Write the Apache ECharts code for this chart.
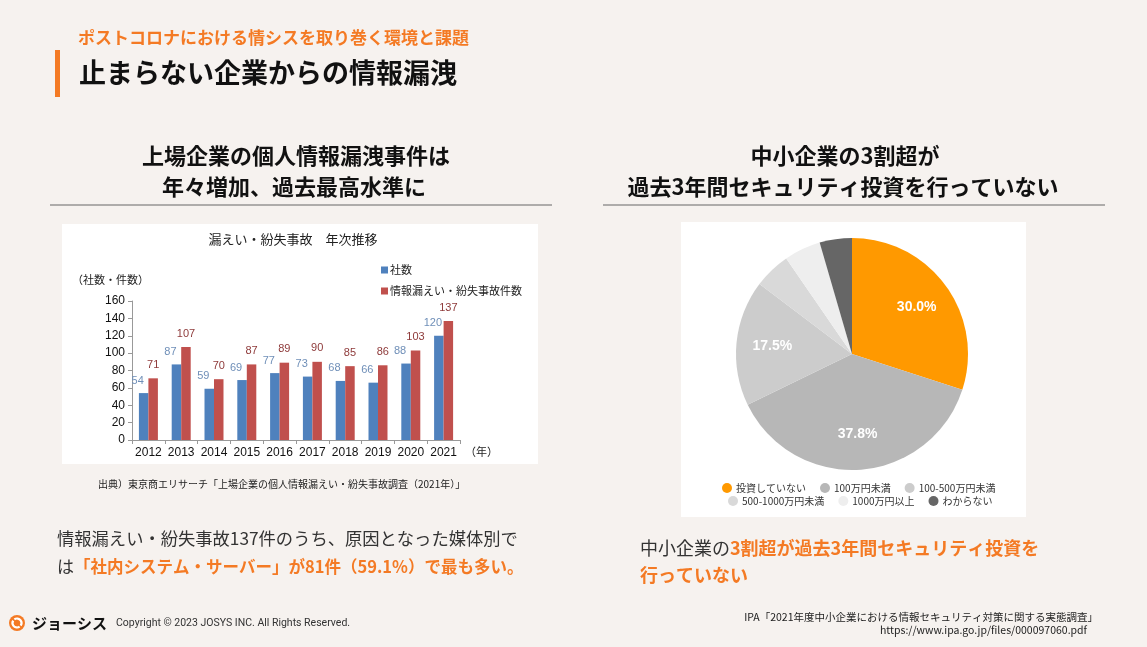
<!DOCTYPE html>
<html><head><meta charset="utf-8">
<script src="https://cdn.jsdelivr.net/npm/echarts@6/dist/echarts.min.js"></script>
<style>html,body{margin:0;padding:0;background:#f6f2ef;}#c{width:1147px;height:647px;}</style>
</head><body><div id="c"></div>
<script>
const years = ['2012','2013','2014','2015','2016','2017','2018','2019','2020','2021'];
const companies = [54,87,59,69,77,73,68,66,88,120];
const incidents = [71,107,70,87,89,90,85,86,103,137];
const yTicks = {min:0, max:160, interval:20};
const pieNames = ['投資していない','100万円未満','100-500万円未満','500-1000万円未満','1000万円以上','わからない'];
const pieValues = [30.0,37.8,17.5,5.1,5.1,4.5];
const pieColors = ['#ff9900','#b7b7b7','#cccccc','#d9d9d9','#eeeeee','#666666'];

const JP = '"Noto Sans CJK JP", "Noto Sans", sans-serif';
const ORANGE = '#f47a24';
const chart = echarts.init(document.getElementById('c'));
const pieData = pieNames.map((n,i)=>({name:n, value:pieValues[i], itemStyle:{color:pieColors[i]}}));

function txt(x,y,text,size,opts){
  return Object.assign({type:'text', x:x, y:y, silent:true,
    style:Object.assign({text:text, font:(opts&&opts.weight||'normal')+' '+size+'px '+JP, fill:(opts&&opts.fill)||'#222',
      textAlign:(opts&&opts.align)||'left', textVerticalAlign:'middle'}, (opts&&opts.style)||{})}, {});
}

chart.setOption({
  backgroundColor:'#f6f2ef',
  animation:false,
  graphic:[
    {type:'rect', shape:{x:55,y:50,width:5,height:47}, style:{fill:ORANGE}},
    txt(78,38,'ポストコロナにおける情シスを取り巻く環境と課題',17,{weight:'bold',fill:ORANGE}),
    txt(79,73,'止まらない企業からの情報漏洩',27,{weight:'bold',fill:'#111'}),
    txt(296,156,'上場企業の個人情報漏洩事件は',22,{weight:'bold',fill:'#111',align:'center'}),
    txt(294,187,'年々増加、過去最高水準に',22,{weight:'bold',fill:'#111',align:'center'}),
    {type:'line', shape:{x1:50,y1:205,x2:552,y2:205}, style:{stroke:'#666',lineWidth:1}},
    txt(845,156,'中小企業の3割超が',22,{weight:'bold',fill:'#111',align:'center'}),
    txt(843,187,'過去3年間セキュリティ投資を行っていない',22,{weight:'bold',fill:'#111',align:'center'}),
    {type:'line', shape:{x1:603,y1:205,x2:1105,y2:205}, style:{stroke:'#666',lineWidth:1}},
    {type:'rect', z:-1, shape:{x:62,y:224,width:476,height:240}, style:{fill:'#ffffff'}},
    {type:'rect', z:-1, shape:{x:681,y:222,width:345,height:295}, style:{fill:'#ffffff'}},
    txt(293,239,'漏えい・紛失事故　年次推移',13,{fill:'#222',align:'center'}),
    txt(72,280,'（社数・件数）',11,{fill:'#222'}),
    txt(465,452,'（年）',11,{fill:'#222'}),
    txt(98,484,'出典）東京商エリサーチ「上場企業の個人情報漏えい・紛失事故調査（2021年）」',10,{fill:'#222'}),
    {type:'text', x:57, y:538, style:{text:'情報漏えい・紛失事故137件のうち、原因となった媒体別で', font:'normal 17.3px '+JP, fill:'#333', textVerticalAlign:'middle'}},
    {type:'text', x:57, y:567, style:{rich:{a:{font:'normal 17px '+JP, fill:'#333'}, b:{font:'bold 16.5px '+JP, fill:ORANGE}}, text:'{a|は}{b|「社内システム・サーバー」が81件（59.1%）で最も多い。}', textVerticalAlign:'middle'}},
    {type:'text', x:640, y:548, style:{rich:{a:{font:'normal 18px '+JP, fill:'#333'}, b:{font:'bold 18px '+JP, fill:ORANGE}}, text:'{a|中小企業の}{b|3割超が過去3年間セキュリティ投資を}', textVerticalAlign:'middle'}},
    txt(640,575,'行っていない',18,{weight:'bold',fill:ORANGE}),
    txt(1098,617,'IPA「2021年度中小企業における情報セキュリティ対策に関する実態調査」',10.5,{fill:'#222',align:'right'}),
    txt(1087,630,'https://www.ipa.go.jp/files/000097060.pdf',10.5,{fill:'#222',align:'right'}),
    {type:'circle', shape:{cx:17,cy:623,r:8}, style:{fill:'#f47a24'}},
    {type:'arc', shape:{cx:17,cy:623,r:4.5,startAngle:-2.2,endAngle:0.6}, style:{stroke:'#fff',lineWidth:2.2,fill:null}},
    {type:'arc', shape:{cx:17,cy:623,r:4.5,startAngle:0.95,endAngle:3.7}, style:{stroke:'#fff',lineWidth:2.2,fill:null}},
    txt(32,623,'ジョーシス',15,{weight:'bold',fill:'#111'}),
    txt(116,623,'Copyright © 2023 JOSYS INC. All Rights Reserved.',10.5,{fill:'#333',style:{font:'normal 10.5px Roboto, "Noto Sans", sans-serif'}})
  ],
  legend:[
    {orient:'vertical', left:376, top:258, itemWidth:7, itemHeight:7, itemGap:7, icon:'rect',
     data:['社数','情報漏えい・紛失事故件数'], textStyle:{fontFamily:JP, fontSize:11, color:'#222', lineHeight:14, padding:[0,0,0,-3]}, selectedMode:false},
    {orient:'horizontal', left:717, top:478, itemWidth:10, itemHeight:10, itemGap:14, icon:'circle',
     data:pieNames.slice(0,3), textStyle:{fontFamily:JP, fontSize:10, color:'#333', padding:[0,0,0,-1]}, selectedMode:false},
    {orient:'horizontal', left:723, top:491, itemWidth:10, itemHeight:10, itemGap:14, icon:'circle',
     data:pieNames.slice(3), textStyle:{fontFamily:JP, fontSize:10, color:'#333', padding:[0,0,0,-1]}, selectedMode:false}
  ],
  grid:{left:132, top:301, width:328, height:139, containLabel:false},
  xAxis:{type:'category', data:years,
    axisLine:{lineStyle:{color:'#999'}}, axisTick:{show:true, length:4, lineStyle:{color:'#999'}},
    axisLabel:{interval:0, color:'#111', fontSize:12, fontFamily:'"Liberation Sans", sans-serif', margin:7}},
  yAxis:{type:'value', min:yTicks.min, max:yTicks.max, interval:yTicks.interval,
    axisLine:{show:true, lineStyle:{color:'#999'}}, axisTick:{show:true, length:4, lineStyle:{color:'#999'}},
    splitLine:{show:false},
    axisLabel:{color:'#111', fontSize:12, fontFamily:'"Liberation Sans", sans-serif', margin:7}},
  series:[
    {name:'社数', type:'bar', data:companies, barWidth:9.5, barGap:'0%', itemStyle:{color:'#4f81bd'},
     label:{show:true, position:'top', offset:[-6,-2], color:'#6f8fb8', fontSize:11, fontFamily:'"Liberation Sans", sans-serif'}},
    {name:'情報漏えい・紛失事故件数', type:'bar', data:incidents, barWidth:9.5, itemStyle:{color:'#c0504d'},
     label:{show:true, position:'top', offset:[0,-3], color:'#8e3a3a', fontSize:11, fontFamily:'"Liberation Sans", sans-serif'}},
    {type:'pie', center:[852,354], radius:[0,116], startAngle:90, clockwise:true, data:pieData,
     label:{show:false}, labelLine:{show:false}, itemStyle:{borderWidth:0}, silent:true},
    {type:'pie', center:[852,354], radius:[38,116], startAngle:90, clockwise:true, z:3,
     data:pieNames.map((n,i)=>({name:n, value:pieValues[i], itemStyle:{color:'rgba(0,0,0,0)'}})),
     legendHoverLink:false, silent:true,
     label:{show:true, position:'inside', color:'#fff', fontSize:14, fontWeight:'bold', fontFamily:'"Liberation Sans", Arial, sans-serif',
       formatter:p=> p.value>=10 ? p.value.toFixed(1)+'%' : ''},
     labelLine:{show:false}}
  ]
});
</script></body></html>
